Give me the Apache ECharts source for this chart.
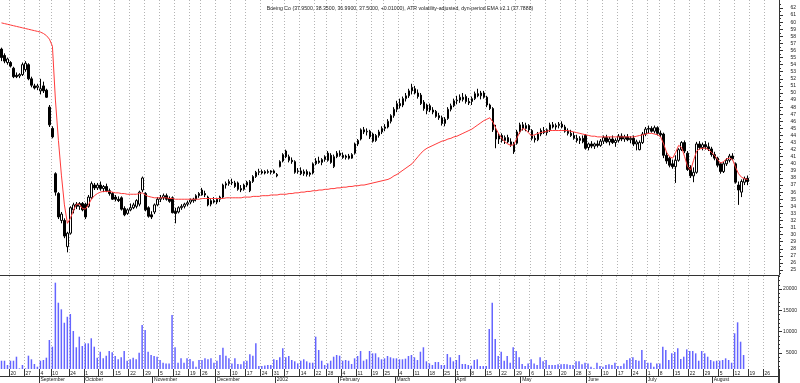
<!DOCTYPE html>
<html>
<head>
<meta charset="utf-8">
<script src="https://cdn.jsdelivr.net/npm/echarts@6/dist/echarts.min.js"></script>
<style>html,body{margin:0;padding:0;background:#fff}#c{width:800px;height:383px}</style>
</head>
<body>
<div id="c"></div>
<script>
// ---------- DATA ----------
const titleText = 'Boeing Co (37.9500, 38.3500, 36.9900, 37.5000, +0.01000), ATR volatility-adjusted, dyn-period EMA v2.1 (37.7888)';
const firstDay = '2001-08-15';
const lastDay = '2002-08-30';
const holidays = ['2001-09-03','2001-09-11','2001-09-12','2001-09-13','2001-09-14','2001-11-22','2001-12-25','2002-01-01','2002-01-21','2002-02-18','2002-03-29','2002-05-27','2002-07-04'];
const monthNames = ['January','February','March','April','May','June','July','August','September','October','November','December'];
const priceTicks = [25,26,27,28,29,30,31,32,33,34,35,36,37,38,39,40,41,42,43,44,45,46,47,48,49,50,51,52,53,54,55,56,57,58,59,60,61,62];
const priceMinorTicks = [24.5,25.5,26.5,27.5,28.5,29.5,30.5,31.5,32.5,33.5,34.5,35.5,36.5,37.5,38.5,39.5,40.5,41.5,42.5,43.5,44.5,45.5,46.5,47.5,48.5,49.5,50.5,51.5,52.5,53.5,54.5,55.5,56.5,57.5,58.5,59.5,60.5,61.5,62.5];
const volumeTicks = [5000,10000,15000,20000];
const volumeMinorTicks = [2000,3000,4000,6000,7000,8000,9000,11000,12000,13000,14000,16000,17000,18000,19000,21000,22000,23000];

// open, high, low, close
const ohlc = [
[56.2,56.4,54.5,55.0],[55.3,55.6,54.2,54.5],[54.3,55.0,54.0,54.8],[54.3,54.5,53.6,53.8],[53.5,53.7,52.1,52.3],
[52.5,52.9,52.1,52.3],[52.4,52.8,52.1,52.6],[52.6,54.3,52.4,54.0],[53.3,54.5,53.0,54.2],[54.0,54.2,51.8,52.0],
[52.0,52.3,50.8,51.1],[51.0,51.3,50.5,50.7],[50.8,51.3,50.4,51.0],[50.3,52.0,49.8,50.6],[51.0,51.6,50.0,50.3],
[50.4,50.6,49.3,49.4],[48.0,48.3,45.2,45.5],[45.0,45.3,43.6,43.8],[38.6,38.8,35.5,36.0],[35.8,36.0,32.2,32.5],
[32.0,33.2,31.6,32.9],[32.0,32.3,29.5,29.8],[28.3,30.4,27.5,30.2],[30.2,34.0,30.0,33.8],[33.5,34.5,33.0,34.2],
[34.3,34.6,33.6,34.0],[34.0,34.6,33.5,34.4],[34.4,34.6,33.3,33.5],[34.3,34.5,32.2,32.5],[34.0,35.6,33.8,35.3],
[35.2,37.5,35.0,37.2],[37.0,37.3,36.3,36.6],[36.6,37.3,36.3,37.0],[37.0,37.5,36.2,36.5],[36.5,37.0,36.0,36.8],
[36.8,37.2,36.0,36.2],[36.2,36.5,35.5,35.8],[35.8,36.0,34.9,35.0],[35.3,35.6,34.7,35.0],[35.0,35.4,34.6,34.8],
[35.2,35.4,33.4,33.6],[33.7,34.0,32.6,32.8],[33.0,33.7,32.8,33.5],[33.5,34.4,33.3,33.8],[33.8,34.5,33.6,34.2],
[34.0,35.0,33.7,34.8],[34.3,36.2,34.0,36.0],[36.3,38.2,36.0,38.0],[35.8,36.0,33.3,33.5],[33.8,34.0,32.4,32.6],
[32.8,33.3,32.2,32.5],[33.2,34.4,32.9,34.2],[34.2,35.3,34.0,35.0],[35.0,35.6,34.6,35.2],[35.2,35.8,34.9,35.5],
[35.5,35.8,34.8,35.0],[35.1,35.4,34.5,34.7],[35.2,35.4,33.0,33.1],[33.3,33.8,31.6,33.0],[33.2,34.0,33.0,33.8],
[33.8,34.3,33.5,34.0],[34.0,34.5,33.7,34.3],[34.3,34.8,34.0,34.5],[34.6,35.1,34.3,34.9],[34.8,35.2,34.5,35.0],
[35.0,35.7,34.7,35.5],[35.5,36.0,35.2,35.8],[36.3,36.6,35.5,35.6],[35.8,36.2,35.3,35.6],[35.3,35.5,34.0,34.2],
[34.3,35.0,34.0,34.8],[34.8,35.3,34.4,34.6],[34.6,35.2,34.3,35.0],[35.0,35.5,34.6,35.3],[35.3,37.2,35.1,37.0],
[37.0,37.5,36.5,37.2],[37.2,37.8,36.9,37.5],[37.4,37.9,37.0,37.3],[37.3,37.6,36.6,36.8],[37.3,37.5,36.2,36.4],
[36.5,37.0,36.0,36.3],[36.4,37.2,36.2,37.0],[37.0,37.6,36.7,37.4],[36.2,37.7,36.0,37.5],[37.5,38.4,37.3,38.2],
[38.2,39.0,38.0,38.8],[38.8,39.3,38.4,38.9],[38.9,39.2,38.5,38.7],[38.7,39.1,38.5,38.9],[38.9,39.2,38.6,38.8],
[38.8,39.1,38.5,39.0],[39.0,39.2,38.6,38.7],[38.5,38.7,38.1,38.3],[39.6,40.5,39.5,40.3],[40.4,41.5,40.2,41.3],
[41.8,42.0,40.8,41.0],[41.0,41.3,40.2,40.5],[40.5,40.9,40.0,40.3],[40.3,40.5,38.6,38.8],[38.9,39.4,38.6,39.0],
[39.0,39.5,38.4,38.6],[38.6,39.2,38.3,38.9],[38.9,39.2,38.2,38.5],[38.5,38.9,38.2,38.7],[38.7,40.2,38.5,40.0],
[40.0,40.8,39.8,40.4],[40.4,41.0,40.0,40.2],[40.2,40.8,39.8,40.6],[40.6,41.2,40.3,41.0],[41.5,41.8,40.3,40.5],
[41.2,41.5,40.0,40.2],[39.6,41.3,39.4,41.0],[41.0,41.8,40.8,41.5],[41.5,41.9,41.0,41.2],[41.2,41.6,40.7,40.9],
[40.9,41.3,40.6,41.1],[41.1,41.4,40.6,40.8],[40.8,41.5,40.7,41.3],[41.5,43.0,41.3,42.8],[42.8,43.5,42.5,43.3],
[43.5,45.0,43.3,44.8],[44.8,45.2,44.2,44.5],[44.5,45.0,44.0,44.6],[44.6,44.8,43.5,43.8],[44.2,44.4,43.0,43.2],
[43.3,44.2,43.1,44.0],[44.0,44.8,43.7,44.5],[44.5,45.3,44.2,45.0],[45.0,45.6,44.6,45.2],[45.2,46.3,45.0,46.0],
[46.0,47.0,45.7,46.8],[46.8,48.0,46.5,47.7],[47.7,48.9,47.3,48.5],[48.5,49.2,47.8,48.2],[48.3,49.5,48.0,49.2],
[49.2,50.0,48.8,49.6],[49.6,50.6,49.3,50.3],[50.3,51.3,49.8,50.8],[50.6,51.0,49.8,50.0],[50.0,50.5,49.2,49.5],
[49.7,50.0,48.3,48.5],[48.7,49.0,47.5,47.8],[47.5,48.5,47.0,48.3],[48.2,48.5,47.3,47.6],[47.6,48.0,47.0,47.3],
[47.4,47.6,46.5,46.7],[46.8,47.2,46.2,46.5],[46.5,46.8,45.4,45.7],[45.7,46.6,45.3,46.3],[46.4,48.0,46.2,47.7],
[47.7,48.5,47.4,48.2],[48.2,49.2,48.0,48.9],[48.9,49.6,48.4,49.0],[49.0,49.8,48.6,49.4],[49.4,50.0,48.8,49.1],
[49.5,49.8,48.5,48.8],[48.8,49.3,48.3,48.6],[48.8,49.5,48.3,49.2],[49.2,50.2,49.0,49.9],[49.9,50.6,49.4,49.6],
[49.6,50.3,49.1,50.0],[50.0,50.3,49.2,49.4],[49.4,49.6,48.0,48.3],[48.3,48.5,47.6,47.8],[47.8,48.0,44.5,44.8],
[44.8,45.5,42.2,43.5],[43.5,44.3,42.8,44.0],[44.0,44.3,43.0,43.3],[43.3,44.0,42.8,43.7],[43.7,44.1,42.9,43.1],
[43.1,43.6,42.4,42.7],[42.9,43.1,41.4,41.7],[42.9,44.8,42.7,44.5],[44.5,45.8,44.2,45.5],[45.5,45.9,44.7,45.0],
[45.0,45.8,44.6,45.4],[45.4,45.6,44.5,44.8],[44.7,44.9,43.3,43.6],[43.6,44.0,43.0,43.4],[43.4,44.5,43.2,44.2],
[44.2,45.0,43.9,44.7],[44.7,45.2,44.2,44.4],[44.4,45.0,44.0,44.8],[44.8,45.8,44.5,45.5],[45.5,45.9,45.0,45.2],
[45.2,45.7,44.8,45.4],[45.4,45.9,45.0,45.6],[45.6,46.0,45.0,45.2],[45.2,45.5,44.4,44.6],[44.6,45.0,44.0,44.3],
[44.3,44.8,43.8,44.0],[44.0,44.5,43.4,43.6],[43.6,44.1,43.0,43.3],[43.3,43.9,42.8,43.6],[43.6,44.0,42.9,43.1],
[44.0,44.2,42.0,42.2],[42.3,43.0,41.9,42.8],[42.8,43.2,42.2,42.5],[42.5,43.0,42.1,42.8],[42.8,43.3,42.3,42.6],
[42.6,43.5,42.4,43.2],[43.2,44.0,42.8,43.7],[43.7,44.1,42.9,43.1],[43.1,43.8,42.6,43.5],[43.5,44.0,42.8,43.0],
[43.0,43.6,42.4,43.3],[43.3,44.2,43.0,43.9],[43.9,44.3,43.2,43.5],[43.5,44.1,43.1,43.8],[43.8,44.2,43.2,43.4],
[43.4,43.9,42.9,43.6],[43.6,44.0,42.5,42.8],[42.8,43.4,41.9,43.1],[42.0,43.3,41.9,43.0],[43.0,44.5,42.8,44.2],
[44.2,45.2,43.9,44.9],[44.9,45.4,44.3,45.0],[45.0,45.3,44.4,44.6],[44.6,45.4,44.3,45.1],[45.1,45.3,44.0,44.3],
[44.3,44.7,43.8,44.1],[44.2,44.4,40.8,41.2],[41.2,41.7,40.0,40.4],[40.8,41.0,39.5,39.8],[40.0,40.6,39.3,39.6],
[39.6,41.2,37.3,40.5],[40.5,42.2,40.3,42.0],[42.0,43.2,41.8,43.0],[43.0,43.3,41.5,41.8],[41.5,41.8,39.0,39.2],
[39.5,39.8,38.0,38.3],[38.3,39.5,37.4,38.8],[38.8,43.1,38.6,42.8],[42.8,43.2,42.0,42.3],[42.3,43.0,41.9,42.7],
[42.7,43.2,42.0,42.4],[42.4,43.0,41.8,42.1],[42.1,42.4,41.0,41.3],[41.3,41.7,40.5,40.8],[40.8,41.0,39.5,39.8],
[40.0,40.2,38.6,38.9],[38.9,40.3,38.7,40.0],[40.0,40.8,39.7,40.5],[40.5,41.4,40.2,41.1],[41.1,41.5,40.5,40.7],
[40.0,40.2,37.2,37.4],[37.0,37.5,34.2,36.3],[36.0,37.8,35.3,37.5],[37.4,38.2,37.0,37.9],[37.95,38.35,36.99,37.5]
];

const volume = [
3190,3190,2180,3190,3190,4130,1400,2180,1400,4370,3520,2420,1780,3190,3360,3900,8050,6480,
21500,16800,15250,12100,13500,14150,10160,6340,8830,6640,7270,7270,8450,6480,3900,5300,3750,4370,5470,5150,4300,3520,3990,5470,3190,3520,3900,3520,5070,
11570,10400,5300,4530,4300,4130,3360,2720,2560,2560,
13900,6340,2720,3750,2720,3750,3600,3050,1780,3360,3360,3750,3520,3750,2720,3190,4530,6250,4370,3750,2560,3750,2420,2340,3050,3190,4690,4370,7270,1940,1940,2090,2180,2180,3520,3360,3990,6100,3990,4300,3360,3050,2560,3190,3520,3050,2720,2720,
8830,5700,3190,2180,2560,3190,4130,4530,4370,3190,3360,3190,2420,3750,4300,5470,3190,3520,5470,4920,4920,3990,3520,3750,4300,3990,3750,3750,
3520,3520,3670,4300,4530,3990,3360,5300,6340,3050,2560,2180,2880,2880,2180,2180,4770,3990,3050,3360,4530,2420,2420,2180,2020,3360,3520,1940,1940,1940,
10630,16800,8280,4300,5300,3190,4300,2720,6340,5470,3990,2420,1940,2560,3520,2560,2180,3990,3050,3360,2180,2180,2180,2340,2340,
2420,2340,2180,2180,3050,3050,2340,2720,2560,1780,1400,2720,1940,1780,2180,2340,2180,2720,1940,1940,2560,3360,3750,3990,3360,3190,5700,3360,2720,2720,
1780,2560,2560,6480,5700,3360,4920,5230,6100,3600,4130,5850,5470,5470,4920,3190,5470,4920,4130,3360,3050,3190,3190,3360,3750,3360,2720,9620,12200,7650,4530
];

const ema = [
59.9,59.8,59.7,59.6,59.5,59.4,59.3,59.2,59.1,59.0,58.9,58.8,58.7,58.6,58.4,
58.1,57.6,56.6,49.0,43.3,38.4,34.2,31.6,
32.3,33.4,34.3,34.3,33.7,33.6,34.2,35.0,35.5,35.8,
36.0,36.1,36.1,36.1,36.0,35.9,35.9,35.8,35.8,35.7,35.7,35.7,35.7,35.8,35.9,35.6,35.4,35.3,
35.2,35.2,35.2,35.2,35.2,35.1,35.1,35.0,35.0,35.0,35.0,35.0,35.0,35.0,35.0,35.0,35.1,35.1,35.1,35.1,35.1,35.1,35.1,35.1,35.2,35.2,35.2,35.2,35.2,35.2,
35.3,35.3,35.3,35.4,35.4,35.4,35.5,35.5,35.5,35.6,35.6,35.6,35.7,35.7,35.7,35.8,35.8,35.9,35.9,36.0,
36.0,36.1,36.1,36.2,36.2,36.3,36.3,36.4,36.4,36.5,36.5,36.6,36.6,36.7,36.7,36.8,36.8,36.9,36.9,37.0,37.0,37.1,
37.2,37.3,37.4,37.5,37.6,37.7,37.8,38.0,38.3,38.5,
38.8,39.1,39.4,39.7,40.0,40.5,41.0,41.5,41.9,42.2,42.4,42.6,42.8,43.0,43.2,43.3,43.5,43.6,43.8,43.9,44.1,44.3,44.5,
44.7,44.9,45.2,45.5,45.8,46.1,46.3,46.5,
45.9,45.0,44.2,43.6,43.1,42.8,42.6,42.7,
43.6,44.5,45.0,44.8,44.3,44.0,44.1,44.3,44.4,44.5,44.6,
44.7,44.7,44.7,44.7,44.7,44.7,44.7,
44.6,44.5,44.4,44.3,44.2,44.1,44.0,43.9,43.9,
43.8,43.8,43.8,43.8,43.8,43.8,43.8,43.8,43.8,43.8,43.8,43.8,43.8,
43.9,44.0,44.1,44.2,
44.3,44.3,44.2,44.1,
43.8,42.8,41.6,41.0,40.8,41.6,42.6,42.3,41.0,39.6,39.1,40.5,41.8,42.1,42.2,42.2,42.0,41.6,41.2,40.6,40.1,40.3,40.7,40.8,40.6,39.5,38.6,38.1,37.9,37.79
];

// ---------- CATEGORIES (trading days) ----------
const dates = [];
(function(){
  const s = new Date(firstDay + 'T00:00:00Z').getTime();
  const e = new Date(lastDay + 'T00:00:00Z').getTime();
  for (let t = s; t <= e; t += 86400000) {
    const dt = new Date(t);
    const dow = dt.getUTCDay();
    const str = dt.toISOString().slice(0,10);
    if (dow > 0 && dow < 6 && holidays.indexOf(str) < 0) dates.push(str);
  }
})();
const dObj = dates.map(s => new Date(s + 'T00:00:00Z'));
const weekFlag = dates.map(() => false);
const monthFlag = dates.map(() => false);
let lastShown = -10;
for (let i = 1; i < dates.length; i++) {
  const a = dObj[i-1], b = dObj[i];
  const newWeek = b.getUTCDay() < a.getUTCDay() || (b - a) >= 7*86400000;
  if (newWeek && i - lastShown >= 3) { weekFlag[i] = true; lastShown = i; }
  if (b.getUTCMonth() !== a.getUTCMonth()) monthFlag[i] = true;
}
const weekFn = (i) => weekFlag[i];
const monthFn = (i) => monthFlag[i];

const candleData = ohlc.map(r => [r[0], r[3], r[2], r[1]]);

const FONT = 'Liberation Sans';
const dotted = { show: true, interval: weekFn, lineStyle: { color: '#b4b4b4', width: 1, type: [1, 2] } };

const chart = echarts.init(document.getElementById('c'), null, { renderer: 'canvas' });
chart.setOption({
  animation: false,
  backgroundColor: '#fff',
  title: {
    text: titleText, left: 'center', top: 1,
    textStyle: { fontSize: 5.2, fontWeight: 'normal', color: '#222', fontFamily: FONT }
  },
  grid: [
    { left: 0, right: 21, top: 0, height: 275 },
    { left: 0, right: 21, top: 276, height: 93 }
  ],
  xAxis: [
    { gridIndex: 0, type: 'category', data: dates, boundaryGap: true,
      axisLine: { show: true, lineStyle: { color: '#333', width: 1 } },
      axisTick: { show: false }, axisLabel: { show: false }, splitLine: dotted },
    { gridIndex: 1, type: 'category', data: dates, boundaryGap: true, position: 'bottom',
      axisLine: { show: false },
      axisTick: { show: true, interval: weekFn, length: 7, lineStyle: { color: '#333' } },
      axisLabel: { show: true, interval: weekFn, fontSize: 5, fontFamily: FONT, color: '#222', align: 'left', margin: 2,
        formatter: v => String(Number(v.slice(8,10))) },
      splitLine: dotted },
    { gridIndex: 1, type: 'category', data: dates, boundaryGap: true, position: 'bottom', offset: 7,
      axisLine: { show: true, lineStyle: { color: '#333', width: 1 } },
      axisTick: { show: true, interval: monthFn, length: 7, lineStyle: { color: '#333' } },
      axisLabel: { show: true, interval: monthFn, fontSize: 5, fontFamily: FONT, color: '#222', align: 'left', margin: 1,
        formatter: v => { const m = Number(v.slice(5,7)); return m === 1 ? v.slice(0,4) : monthNames[m-1]; } },
      splitLine: { show: false } }
  ],
  yAxis: [
    { gridIndex: 0, type: 'value', position: 'right', min: 24.3, max: 63.13, scale: true,
      axisLine: { show: true, lineStyle: { color: '#333' } },
      axisTick: { show: true, customValues: priceTicks, length: 4, lineStyle: { color: '#333' } },
      axisLabel: { show: true, customValues: priceTicks, fontSize: 5, fontFamily: FONT, color: '#222', align: 'right', margin: 17 },
      splitLine: { show: false } },
    { gridIndex: 0, type: 'value', position: 'right', min: 24.3, max: 63.13, scale: true,
      axisLine: { show: false },
      axisTick: { show: true, customValues: priceMinorTicks, length: 2, lineStyle: { color: '#333' } },
      axisLabel: { show: false }, splitLine: { show: false } },
    { gridIndex: 1, type: 'value', position: 'right', min: 1244, max: 23070,
      axisLine: { show: true, lineStyle: { color: '#333' } },
      axisTick: { show: true, customValues: volumeTicks, length: 4, lineStyle: { color: '#333' } },
      axisLabel: { show: true, customValues: volumeTicks, fontSize: 5, fontFamily: FONT, color: '#222', align: 'right', margin: 19,
        formatter: v => String(Math.round(v)) },
      splitLine: { show: false } },
    { gridIndex: 1, type: 'value', position: 'right', min: 1244, max: 23070,
      axisLine: { show: false },
      axisTick: { show: true, customValues: volumeMinorTicks, length: 2, lineStyle: { color: '#333' } },
      axisLabel: { show: false }, splitLine: { show: false } }
  ],
  graphic: [
    { type: 'line', shape: { x1: 779.5, y1: 369, x2: 779.5, y2: 383 }, style: { stroke: '#333', lineWidth: 1 }, silent: true }
  ],
  series: [
    { type: 'candlestick', xAxisIndex: 0, yAxisIndex: 0, data: candleData, barWidth: 2,
      itemStyle: { color: '#fff', color0: '#000', borderColor: '#000', borderColor0: '#000', borderWidth: 1 } },
    { type: 'line', xAxisIndex: 0, yAxisIndex: 0, data: ema, symbol: 'none', smooth: false,
      lineStyle: { color: '#ff3b3b', width: 1 } },
    { type: 'bar', xAxisIndex: 1, yAxisIndex: 2, data: volume, barWidth: 1.5,
      itemStyle: { color: '#6464ff' } }
  ]
});
</script>
</body>
</html>
